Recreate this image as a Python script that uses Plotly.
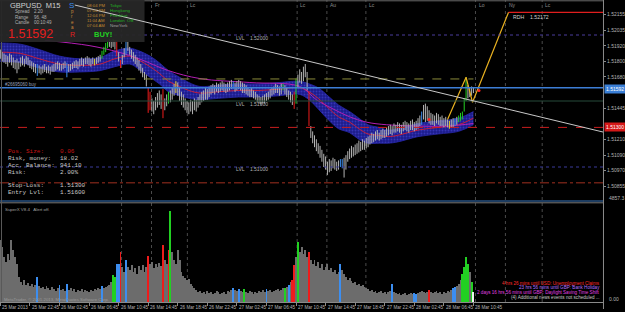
import plotly.graph_objects as go

# ---------------- data (GBPUSD M15) ----------------
high = [1.5189,1.5187,1.5186,1.5185,1.5184,1.5186,1.5185,1.5183,1.5181,1.5182,1.5180,1.5183,1.5184,1.5182,1.5184,1.5183,
        1.5181,1.5180,1.5179,1.5178,1.5178,1.5177,1.5176,1.5177,1.5178,1.5176,1.5177,1.5176,1.5177,1.5178,1.5179,1.5180,1.5179,1.5178,1.5179,1.5180,1.5179,1.5178,
        1.5178,1.5179,1.5180,1.5181,1.5180,1.5182,1.5183,1.5182,1.5183,1.5184,1.5183,1.5182,1.5183,1.5182,1.5183,1.5184,
        1.5185,1.5188,1.5191,1.5194,1.5196,1.5197,
        1.5196,1.5197,1.5196,1.5196,1.5187,1.5181,1.5185,1.5190,1.5196,1.5195,1.5191,1.5189,
        1.5187,1.5185,1.5183,1.5181,1.5178,1.5175,1.5172,1.5170,
        1.5160,1.5157,1.5152,1.5150,1.5153,1.5156,1.5158,1.5155,1.5159,1.5152,1.5155,1.5157,1.5158,
        1.5160,1.5163,1.5165,1.5164,1.5160,1.5157,1.5155,1.5152,1.5150,1.5149,1.5151,1.5150,1.5152,1.5151,1.5153,1.5155,1.5157,1.5158,1.5160,1.5159,
        1.5161,1.5162,1.5163,1.5162,1.5164,1.5163,1.5164,1.5165,1.5164,1.5163,1.5164,
        1.5165,1.5166,1.5165,1.5164,1.5165,1.5166,1.5165,1.5164,1.5163,1.5162,
        1.5160,1.5159,1.5160,1.5158,1.5157,1.5155,1.5154,1.5153,1.5154,1.5155,1.5156,
        1.5157,1.5159,1.5160,1.5161,1.5163,1.5162,1.5161,1.5163,1.5163,1.5162,1.5160,1.5158,1.5157,1.5155,1.5157,1.5167,
        1.5170,1.5174,1.5172,1.5176,1.5178,1.5172,1.5157,
        1.5131,1.5127,1.5124,1.5121,1.5118,1.5116,1.5113,1.5110,1.5108,1.5104,1.5106,1.5105,
        1.5107,1.5106,1.5104,1.5105,1.5106,1.5106,1.5107,1.5109,
        1.5112,1.5114,1.5116,1.5115,1.5117,1.5118,1.5120,1.5119,1.5121,1.5120,1.5122,1.5123,
        1.5124,1.5126,1.5125,1.5127,1.5128,1.5126,1.5128,1.5129,1.5128,
        1.5130,1.5131,1.5132,1.5131,1.5133,1.5132,1.5134,1.5133,1.5132,1.5134,1.5135,1.5134,1.5133,1.5135,1.5136,1.5134,1.5135,1.5137,1.5139,1.5142,
        1.5147,1.5148,1.5146,1.5143,1.5141,1.5140,1.5139,1.5141,1.5140,1.5138,1.5139,1.5137,1.5138,
        1.5136,1.5135,1.5136,1.5137,1.5137,1.5138,1.5139,1.5141,1.5142,1.5152,1.5168,1.5162,1.5160,1.5161,1.5160]

low = [1.5182,1.5180,1.5179,1.5178,1.5176,1.5179,1.5177,1.5175,1.5174,1.5171,1.5174,1.5176,1.5177,1.5176,1.5178,1.5177,
       1.5175,1.5174,1.5172,1.5171,1.5169,1.5171,1.5170,1.5171,1.5172,1.5171,1.5171,1.5170,1.5172,1.5172,1.5173,1.5174,1.5173,1.5173,1.5174,1.5175,1.5168,1.5172,
       1.5173,1.5174,1.5175,1.5175,1.5174,1.5176,1.5177,1.5176,1.5178,1.5178,1.5177,1.5176,1.5178,1.5177,1.5178,1.5179,
       1.5180,1.5182,1.5185,1.5187,1.5190,1.5191,
       1.5190,1.5191,1.5189,1.5184,1.5180,1.5175,1.5178,1.5183,1.5185,1.5188,1.5185,1.5182,
       1.5180,1.5178,1.5176,1.5173,1.5171,1.5168,1.5166,1.5161,
       1.5141,1.5143,1.5142,1.5140,1.5143,1.5145,1.5147,1.5144,1.5137,1.5143,1.5146,1.5148,1.5149,
       1.5151,1.5154,1.5156,1.5154,1.5150,1.5147,1.5145,1.5143,1.5141,1.5140,1.5142,1.5140,1.5143,1.5142,1.5145,1.5147,1.5149,1.5150,1.5151,1.5151,
       1.5153,1.5155,1.5156,1.5155,1.5157,1.5156,1.5157,1.5158,1.5157,1.5156,1.5157,
       1.5158,1.5159,1.5159,1.5157,1.5158,1.5159,1.5158,1.5156,1.5156,1.5155,
       1.5154,1.5153,1.5153,1.5152,1.5151,1.5149,1.5148,1.5147,1.5148,1.5148,1.5150,
       1.5151,1.5152,1.5154,1.5155,1.5156,1.5156,1.5154,1.5155,1.5158,1.5155,1.5153,1.5151,1.5149,1.5147,1.5144,1.5148,
       1.5160,1.5164,1.5163,1.5165,1.5168,1.5158,1.5131,
       1.5122,1.5118,1.5115,1.5112,1.5110,1.5107,1.5104,1.5100,1.5098,1.5094,1.5096,1.5097,
       1.5099,1.5098,1.5097,1.5098,1.5100,1.5099,1.5092,1.5098,
       1.5104,1.5106,1.5107,1.5108,1.5109,1.5110,1.5111,1.5112,1.5113,1.5113,1.5114,1.5115,
       1.5117,1.5118,1.5119,1.5120,1.5121,1.5120,1.5121,1.5122,1.5122,
       1.5123,1.5124,1.5125,1.5124,1.5126,1.5126,1.5127,1.5126,1.5125,1.5127,1.5128,1.5127,1.5126,1.5128,1.5128,1.5127,1.5128,1.5129,1.5131,1.5132,
       1.5136,1.5134,1.5135,1.5133,1.5132,1.5132,1.5131,1.5133,1.5132,1.5131,1.5131,1.5130,1.5131,
       1.5130,1.5129,1.5130,1.5130,1.5131,1.5132,1.5134,1.5135,1.5136,1.5142,1.5150,1.5152,1.5153,1.5154,1.5156]

volume = [3075,2730,2230,1985,2380,2085,3075,2580,2230,1885,1240,990,845,1090,845,940,795,895,745,845,
          1240,795,695,745,645,795,695,595,745,645,545,695,845,595,645,545,895,595,695,545,
          645,495,595,545,645,495,595,545,495,595,545,645,595,695,645,795,695,745,795,845,
          990,1340,1240,1885,1885,2480,1735,1490,2085,1735,1590,1835,1490,1685,1390,1785,1590,1835,1490,1735,
          2280,1885,1985,1685,1885,1735,1935,1785,2830,2085,1885,2580,4515,2480,2085,1885,2580,2085,1490,1290,
          1190,1090,1140,895,795,695,595,495,545,445,495,395,545,445,495,395,445,545,495,395,
          445,495,395,545,495,595,695,595,545,645,545,495,645,495,445,545,495,395,495,445,
          545,495,595,495,645,545,595,495,545,595,645,545,595,695,695,745,845,990,1090,1835,
          2230,2975,2480,2730,2380,2580,2230,2480,2085,1885,2085,1785,1985,1685,1885,1590,1735,1885,1590,1685,
          1490,1590,1390,1490,1885,1590,1390,1240,1090,1190,1040,940,990,845,895,795,845,745,695,645,
          545,595,495,545,445,495,545,445,495,395,495,545,895,495,445,395,445,345,395,445,
          345,395,445,395,445,395,445,495,545,495,445,495,595,495,445,495,545,445,495,395,
          495,445,545,495,595,695,745,795,895,1090,1390,1735,2230,1885,1490,990,495]

assert len(high) == len(low) == len(volume) == 257

# signal colouring of price bars / volume bars (bar indices)
bar_blue = [20, 36, 68, 126, 184, 185, 228, 246]
bar_green = [55, 56, 57, 58, 91, 153, 160, 248, 249, 250, 251, 252]
bar_red = [63, 65, 80, 81, 88, 159, 167]
bar_yellow = [51, 95, 243]
vol_blue = [20, 32, 36, 55, 63, 64, 68, 126, 129, 144, 156, 184, 212, 224, 225, 245, 246]
vol_green = [61, 62, 92, 132, 154, 161, 250, 251, 252, 253, 255]
vol_red = [65, 80, 88, 91, 158, 159, 167, 232]
vol_white = [256]

# envelope band and moving averages (knots at bar indices)
band_idx = [0, 11, 21, 32, 43, 54, 62, 70, 75, 81, 86, 91, 97, 102, 108, 118, 129, 140, 151, 162, 167, 172,
            178, 183, 189, 194, 199, 205, 210, 215, 226, 237, 248, 256]
band_mid = [1.5187,1.5186,1.5182,1.5178,1.5177,1.5178,1.5182,1.5184,1.5181,1.5176,1.5171,1.5165,1.5161,1.5158,
            1.5156,1.5157,1.5158,1.5158,1.5159,1.5160,1.5157,1.5152,1.5144,1.5138,1.5134,1.5129,1.5125,1.5124,
            1.5123,1.5124,1.5128,1.5130,1.5132,1.5137]
band_upper = [1.5194,1.5193,1.5189,1.5184,1.5182,1.5183,1.5188,1.5190,1.5188,1.5184,1.5179,1.5173,1.5168,1.5164,
              1.5161,1.5162,1.5163,1.5163,1.5164,1.5165,1.5163,1.5160,1.5153,1.5147,1.5142,1.5137,1.5132,1.5130,
              1.5128,1.5129,1.5133,1.5135,1.5137,1.5142]
band_lower = [1.5180,1.5179,1.5175,1.5172,1.5172,1.5173,1.5176,1.5178,1.5174,1.5168,1.5163,1.5157,1.5154,1.5152,
              1.5151,1.5152,1.5153,1.5153,1.5154,1.5155,1.5151,1.5144,1.5135,1.5129,1.5126,1.5121,1.5118,1.5118,
              1.5118,1.5119,1.5123,1.5125,1.5127,1.5132]
slow_ma_idx = [24, 48, 64, 75, 91, 108, 135, 162, 171, 180, 189, 198, 209, 226, 242, 256]
slow_ma = [1.5196,1.5192,1.5187,1.5182,1.5173,1.5167,1.5164,1.5161,1.5151,1.5144,1.5138,1.5134,1.5132,1.5131,1.5131,1.5133]

# drawn objects
trend_idx = [40.3, 326.1]
trend_px = [1.52227, 1.51265]
zigzag_idx = [242, 252, 255.5, 275]
zigzag_px = [1.5136, 1.5168, 1.5149, 1.52172]
signal_idx = [232, 259]
signal_px = [1.5136, 1.5158]

lvl_levels = [1.52000, 1.51500, 1.51000]
rdh_level = 1.52172
rdh_start = 275
bid_price = 1.51592
entry_level = 1.51600
stop_level = 1.51300
prev_high_level = 1.51667
prev_high_end = 256
lower_dashdot_level = 1.50880

price_ticks = [1.52155, 1.52037, 1.51918, 1.51800, 1.51682, 1.51445, 1.51208, 1.51090, 1.50972, 1.50853]
price_tick_text = ["1.52155", "1.52035", "1.51920", "1.51800", "1.51680", "1.51445",
                   "1.51210", "1.51090", "1.50970", "1.50855"]
time_tick_idx = [0, 16, 32, 48, 64, 80, 96, 112, 128, 144, 160, 176, 192, 208, 224, 240, 256]
time_tick_text = ["25 Mar 2013", "25 Mar 22:45", "26 Mar 02:45", "26 Mar 06:45", "26 Mar 10:45", "26 Mar 14:45",
                  "26 Mar 18:45", "26 Mar 22:45", "27 Mar 02:45", "27 Mar 06:45", "27 Mar 10:45", "27 Mar 14:45",
                  "27 Mar 18:45", "27 Mar 22:45", "28 Mar 02:45", "28 Mar 06:45", "28 Mar 10:45"]
session_idx = [65.6, 81.8, 101.2, 160.6, 176.7, 197.8, 257.1, 273.3, 293.2]
session_text = ["", "Fr", "Lc", "Lc", "Au", "Lc", "Lo", "Ny", "Lc"]
vol_max = 4857.3

# ---------------- geometry helpers (layout only) ----------------
PW, PH = 605.0, 302.0
def px(x):
    return x / PW
def py(y):
    return (PH - y) / PH

SANS = "Liberation Sans"
MONO = "Liberation Mono"

fig = go.Figure()

# band
fig.add_trace(go.Scatter(x=band_idx, y=band_upper, mode="lines", line=dict(color="#2626a8", width=0.8, shape="spline"),
                         hoverinfo="skip", showlegend=False))
fig.add_trace(go.Scatter(x=band_idx, y=band_lower, mode="lines", line=dict(color="#2626a8", width=0.8, shape="spline"),
                         fill="tonexty", fillcolor="#1c1c8c",
                         fillpattern=dict(shape=".", fgcolor="#5050e0", bgcolor="#1c1c8c", size=3, solidity=0.3),
                         hoverinfo="skip", showlegend=False))
fig.add_trace(go.Scatter(x=band_idx, y=band_mid, mode="lines", line=dict(color="#c81e3c", width=1, shape="spline"),
                         hoverinfo="skip", showlegend=False))
fig.add_trace(go.Scatter(x=slow_ma_idx, y=slow_ma, mode="lines", line=dict(color="#b41eb4", width=1, shape="spline"),
                         hoverinfo="skip", showlegend=False))

# price bars
special = set(bar_blue) | set(bar_green) | set(bar_red) | set(bar_yellow)
def segs(ids):
    xs, ys = [], []
    for i in ids:
        xs += [i, i, None]
        ys += [low[i], high[i], None]
    return xs, ys

groups = [([i for i in range(len(high)) if i not in special], "#b4b4b4"),
          (bar_blue, "#3c8ef0"), (bar_green, "#22d022"), (bar_red, "#ee1c1c"), (bar_yellow, "#e6d21e")]
for ids, col in groups:
    xs, ys = segs(ids)
    fig.add_trace(go.Scatter(x=xs, y=ys, mode="lines", line=dict(color=col, width=1), hoverinfo="skip",
                             showlegend=False))

# zigzag projection & signal dots
fig.add_trace(go.Scatter(x=zigzag_idx, y=zigzag_px, mode="lines", line=dict(color="#e8b020", width=1.2),
                         hoverinfo="skip", showlegend=False))
fig.add_trace(go.Scatter(x=signal_idx, y=signal_px, mode="markers", marker=dict(color="#ff2020", size=3),
                         hoverinfo="skip", showlegend=False))

# volume
vcol = []
for i in range(len(volume)):
    if i in vol_blue:
        vcol.append("#3c8ef0")
    elif i in vol_green:
        vcol.append("#22d022")
    elif i in vol_red:
        vcol.append("#ee1c1c")
    elif i in vol_white:
        vcol.append("#f0f0f0")
    else:
        vcol.append("#6c6c6c")
fig.add_trace(go.Bar(x=list(range(len(volume))), y=volume, marker=dict(color=vcol, line=dict(width=0)), width=0.5,
                     xaxis="x", yaxis="y2", hoverinfo="skip", showlegend=False))

shapes = []
def hline(level, color, dash="solid", width=1, x0=0, x1=1, xref="paper"):
    shapes.append(dict(type="line", xref=xref, yref="y", x0=x0, x1=x1, y0=level, y1=level,
                       line=dict(color=color, width=width, dash=dash), layer="above"))

# session separators
for s in session_idx:
    shapes.append(dict(type="line", xref="x", yref="paper", x0=s, x1=s, y0=0, y1=1,
                       line=dict(color="#4a4a4a", width=1, dash="dot"), layer="below"))

hline(lvl_levels[0], "#4a3c9c", "dot")
hline(lvl_levels[1], "#264a3a", "solid")
hline(lvl_levels[2], "#3a3a9a", "dot")
hline(prev_high_level, "#8a8a3a", "dash", 1, 0, prev_high_end, "x")
hline(entry_level, "#3d7ed6", "solid", 1.4)
hline(stop_level, "#c81e1e", "dash")
hline(lower_dashdot_level, "#a03020", "dashdot")
hline(rdh_level, "#e01e1e", "solid", 1.2, rdh_start, 326.1, "x")

# panel separators and borders
shapes.append(dict(type="line", xref="paper", yref="paper", x0=0, x1=1, y0=py(201), y1=py(201),
                   line=dict(color="#3a78c0", width=1.2)))
shapes.append(dict(type="line", xref="paper", yref="paper", x0=0, x1=1, y0=py(202.8), y1=py(202.8),
                   line=dict(color="#7a7a7a", width=1)))
shapes.append(dict(type="line", xref="paper", yref="paper", x0=0, x1=1, y0=py(0.8), y1=py(0.8),
                   line=dict(color="#6a6a6a", width=1)))
shapes.append(dict(type="line", xref="paper", yref="paper", x0=px(605.5), x1=px(605.5), y0=py(309), y1=1,
                   line=dict(color="#8a8a8a", width=1)))
shapes.append(dict(type="line", xref="paper", yref="paper", x0=px(1.5), x1=px(1.5), y0=0, y1=1,
                   line=dict(color="#5a5a5a", width=1)))

# info box top-left
shapes.append(dict(type="rect", xref="paper", yref="paper", x0=0, x1=px(145), y0=py(42), y1=1,
                   fillcolor="#272727", line=dict(width=0), opacity=0.95, layer="above"))

# trend line
shapes.append(dict(type="line", xref="x", yref="y", x0=trend_idx[0], x1=trend_idx[1], y0=trend_px[0], y1=trend_px[1],
                   line=dict(color="#c8c8c8", width=1), layer="above"))

ann = []
def text(t, x, y, color="#c0c0c0", size=5, family=SANS, xanchor="left", **kw):
    ann.append(dict(text=t, x=px(x), y=py(y), xref="paper", yref="paper", xanchor=xanchor, yanchor="middle",
                    showarrow=False, font=dict(color=color, size=size, family=family), **kw))

# info box texts
text("GBPUSD  M15", 8, 5.5, "#cfcfcf", 7.5)
for j, (k, v) in enumerate([("Spread", "2.20"), ("Range", "96, 48"), ("Candle", "00:10:49")]):
    text(k, 13, 12 + 5.5 * j, "#b0b0b0", 4.5)
    text(v, 32, 12 + 5.5 * j, "#b0b0b0", 4.5)
text("1.51592", 6, 34.5, "#e41e1e", 12.5)
text("S", 67, 6, "#3c8ef0", 8)
for j, ch in enumerate(["p", "r", "e", "a"]):
    text(ch, 69, 12 + 5 * j, "#d08a3c", 4.5)
text("R", 68, 34, "#e41e1e", 7)
for j, (tm, city, col) in enumerate([("08:04 PM", "Tokyo", "#22b022"), ("07:04 PM", "Hongkong", "#22b022"),
                                     ("12:04 PM", "Frankfurt", "#22b022"), ("11:04 AM", "London  OB", "#22b022"),
                                     ("07:04 AM", "NewYork", "#a0a0a0")]):
    text(tm, 85, 5.5 + 5 * j, "#c08a30", 4.2)
    text(city, 108, 5.5 + 5 * j, col, 4.4)
text("<b>BUY!</b>", 92, 34, "#22d022", 7.5)

# position-size panel
rows = [("Pos. Size:", "0.06", "#c81414", 151), ("Risk, money:", "18.02", "#c8c8c8", 158),
        ("Acc. Balance:", "941.10", "#c8c8c8", 165), ("Risk:", "2.00%", "#c8c8c8", 172),
        ("Stop-Loss:", "1.51300", "#c8c8c8", 185), ("Entry Lvl:", "1.51600", "#c8c8c8", 192)]
for lab, val, col, yy in rows:
    text(lab, 6, yy, col, 6, MONO)
    text(val, 58, yy, col, 6, MONO)

# chart labels
text("#26695060 buy", 3, 84.5, "#9aa0b8", 4.5)
text("LVL    1.52000", 235, 37.5, "#b0b0b0", 5)
text("LVL    1.51500", 235, 104, "#b0b0b0", 5)
text("LVL    1.51000", 235, 168.5, "#b0b0b0", 5)
text("RDH    1.52172", 513, 16.5, "#d0d0d0", 5.2)
text("SuperX V8.4   Alert off.", 3, 209, "#a0a0a0", 4.4)
text("MetaTrader, © 2001-2013, MetaQuotes Software Corp.", 2, 299, "#9a9a9a", 4.3)

# news lines
text("4 hrs 26 mins until USD: Unemployment Claims", 604, 283, "#ff2a2a", 4.6, xanchor="right")
text("23 hrs 56 mins until GBP: Bank Holiday", 604, 287.8, "#b070ff", 4.6, xanchor="right")
text("2 days 16 hrs 56 mins until GBP: Daylight Saving Time Shift", 604, 292.6, "#e040e0", 4.6, xanchor="right")
text("(4) Additional news events not scheduled ...", 604, 297.4, "#c8c8c8", 4.6, xanchor="right")

# right-side labels
text("1.51592", 606, 88.9, "#ffffff", 5, bgcolor="#3a7fd6", borderpad=1)
text("1.51300", 606, 127.4, "#ffffff", 5, bgcolor="#d41818", borderpad=1)
text("4857.3", 609, 198, "#b4b4b4", 5)
text("0.00", 609, 299, "#b4b4b4", 5)

# session labels on top
for s, t in zip(session_idx, session_text):
    if t:
        ann.append(dict(text=t, x=s + 0.6, y=py(5), xref="x", yref="paper", xanchor="left", yanchor="middle",
                        showarrow=False, font=dict(color="#8c8c8c", size=5, family=SANS)))

# time labels
for i, t in zip(time_tick_idx, time_tick_text):
    ann.append(dict(text=t, x=i, y=py(307.5), xref="x", yref="paper", xanchor="left", yanchor="middle",
                    showarrow=False, font=dict(color="#b4b4b4", size=4.6, family=SANS)))

fig.update_layout(
    width=625, height=312,
    margin=dict(l=0, r=20, t=0, b=10),
    paper_bgcolor="black", plot_bgcolor="black",
    showlegend=False,
    bargap=0,
    xaxis=dict(range=[-0.18, 326.1], domain=[0, 1], anchor="y2", showgrid=False, zeroline=False,
               showticklabels=False, ticks="outside", tickvals=time_tick_idx, ticklen=3, tickcolor="#8a8a8a",
               showline=True, linecolor="#8a8a8a", linewidth=1, fixedrange=True),
    yaxis=dict(domain=[py(200), 1], range=[1.5075, 1.522652], side="right", anchor="x", showgrid=False,
               zeroline=False, tickvals=price_ticks, ticktext=price_tick_text, ticks="outside", ticklen=2,
               tickcolor="#8a8a8a", tickfont=dict(size=5, color="#b4b4b4", family=SANS), showline=False),
    yaxis2=dict(domain=[0, py(204)], range=[0, vol_max], anchor="x", showgrid=False, zeroline=False,
                showticklabels=False),
    shapes=shapes,
    annotations=ann,
)

fig.write_html("out.html")
